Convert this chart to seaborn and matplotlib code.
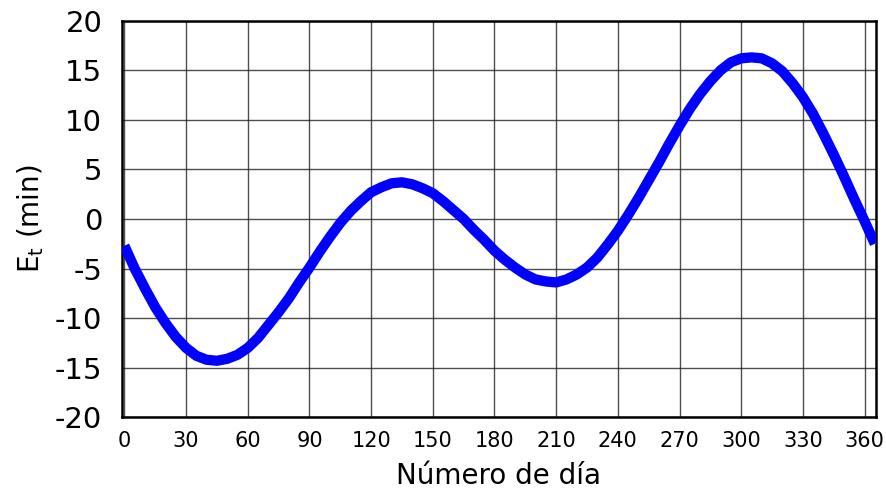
import matplotlib
matplotlib.use("Agg")
import matplotlib.pyplot as plt
import seaborn as sns
import pandas as pd

# equation of time (every 5 days)
DAYS = list(range(0, 361, 5)) + [365]
EOT_MIN = [-2.7, -5.0, -7.0, -8.9, -10.5, -11.9, -13.0, -13.8, -14.2, -14.3,
           -14.1, -13.7, -13.0, -12.0, -10.7, -9.4, -8.0, -6.4, -4.9, -3.3,
           -1.8, -0.4, 0.8, 1.8, 2.7, 3.2, 3.6, 3.7, 3.5, 3.1,
           2.6, 1.8, 0.9, 0.0, -1.1, -2.1, -3.2, -4.1, -4.9, -5.6,
           -6.1, -6.3, -6.4, -6.1, -5.6, -4.9, -3.9, -2.6, -1.2, 0.4,
           2.1, 3.9, 5.7, 7.6, 9.4, 11.1, 12.6, 13.9, 15.0, 15.8,
           16.2, 16.3, 16.2, 15.7, 14.9, 13.7, 12.3, 10.6, 8.6, 6.5,
           4.3, 2.0, -0.2, -2.5]
X_TICKS = list(range(0, 361, 30))
Y_TICKS = list(range(-20, 21, 5))

sns.set_style("white")
plt.rcParams["font.family"] = ["DejaVu Sans"]
plt.rcParams["mathtext.fontset"] = "dejavusans"
plt.rcParams["axes.unicode_minus"] = False
plt.rcParams["text.color"] = "black"
plt.rcParams["axes.labelcolor"] = "black"
plt.rcParams["xtick.color"] = "black"
plt.rcParams["ytick.color"] = "black"

df = pd.DataFrame({"dia": DAYS, "et": EOT_MIN})

fig = plt.figure(figsize=(8.86, 4.96), dpi=100)
ax = fig.add_axes([0.1374, 0.1587, 0.8516, 0.7996])

sns.lineplot(data=df, x="dia", y="et", ax=ax, color="#0000ff", linewidth=7.4,
             solid_capstyle="butt", solid_joinstyle="round", zorder=3)

ax.set_xlim(-1.3, 365.7)
ax.set_ylim(-20, 20)
ax.set_xticks(X_TICKS)
ax.set_yticks(Y_TICKS)
ax.grid(True, color="#222222", linewidth=1.0, alpha=0.8)
ax.set_axisbelow(True)
ax.tick_params(axis="both", length=0)
ax.tick_params(axis="y", labelsize=21, pad=14)
ax.tick_params(axis="x", labelsize=15, pad=10)
for sp in ax.spines.values():
    sp.set_color("black")
    sp.set_linewidth(1.8)

ax.set_xlabel("Número de día", fontsize=20, labelpad=8)
ax.set_ylabel(r"$\mathrm{E_t}$ (min)", fontsize=20, labelpad=6)

fig.savefig("out.png", dpi=100, facecolor="white")
